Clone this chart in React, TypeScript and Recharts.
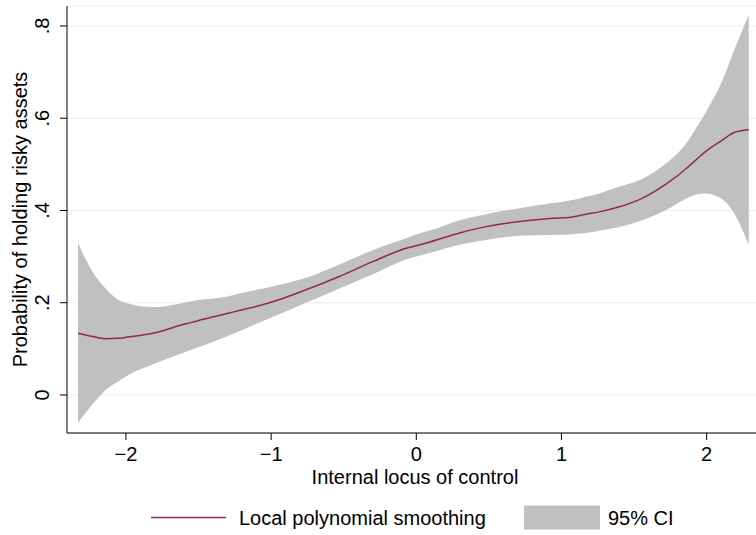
import React from "react";
import { ComposedChart, Area, Line, XAxis, YAxis, CartesianGrid, Legend } from "recharts";

// Internal locus of control (x) values
const xs = [-2.33, -2.23, -2.14, -2.05, -2.0, -1.93, -1.84, -1.77, -1.66, -1.54, -1.47, -1.31, -1.22, -1.08, -0.99, -0.76, -0.53, -0.3, -0.07, 0.02, 0.16, 0.25, 0.48, 0.71, 0.94, 1.05, 1.17, 1.26, 1.4, 1.54, 1.72, 1.86, 1.92, 1.99, 2.11, 2.19, 2.29];
// Local polynomial smoothing fit
const fit = [0.134, 0.127, 0.122, 0.123, 0.125, 0.128, 0.132, 0.137, 0.148, 0.158, 0.164, 0.176, 0.183, 0.194, 0.202, 0.228, 0.257, 0.289, 0.318, 0.325, 0.338, 0.347, 0.365, 0.376, 0.383, 0.385, 0.392, 0.397, 0.408, 0.424, 0.457, 0.491, 0.508, 0.527, 0.553, 0.569, 0.575];
// 95% CI bounds
const upper = [0.33, 0.267, 0.231, 0.206, 0.2, 0.194, 0.191, 0.191, 0.196, 0.204, 0.207, 0.213, 0.22, 0.229, 0.235, 0.254, 0.283, 0.314, 0.34, 0.35, 0.363, 0.374, 0.392, 0.405, 0.416, 0.421, 0.43, 0.437, 0.452, 0.466, 0.502, 0.546, 0.575, 0.611, 0.683, 0.748, 0.824];
const lower = [-0.06, -0.02, 0.011, 0.03, 0.04, 0.052, 0.063, 0.072, 0.085, 0.099, 0.107, 0.126, 0.138, 0.157, 0.169, 0.2, 0.231, 0.262, 0.294, 0.302, 0.314, 0.322, 0.336, 0.345, 0.347, 0.348, 0.351, 0.356, 0.364, 0.377, 0.401, 0.426, 0.434, 0.437, 0.424, 0.394, 0.325];

const xTicks = [-2, -1, 0, 1, 2];
const xTickLabels = ["\u22122", "\u22121", "0", "1", "2"];
const yTicks = [0, 0.2, 0.4, 0.6, 0.8];
const yTickLabels = ["0", ".2", ".4", ".6", ".8"];
const xTitle = "Internal locus of control";
const yTitle = "Probability of holding risky assets";
const legendLabels = ["Local polynomial smoothing", "95% CI"];

const data = xs.map((x, i) => ({ x, fit: fit[i], ci: [lower[i], upper[i]] }));

const FONT = "'Liberation Sans', Arial, Helvetica, sans-serif";
const FS = 20;
const LINE_COLOR = "#902d38";
const CI_COLOR = "#c0c0c0";
const GRID_COLOR = "#e6eff0";

const XTick = (props: any) => {
  const { x, y, payload } = props;
  const idx = xTicks.indexOf(payload.value);
  return (
    <text x={x} y={y + 19} textAnchor="middle" fontFamily={FONT} fontSize={FS} fill="#000">
      {idx >= 0 ? xTickLabels[idx] : payload.value}
    </text>
  );
};

const YTick = (props: any) => {
  const { x, y, payload } = props;
  const idx = yTicks.findIndex((t) => Math.abs(t - payload.value) < 1e-9);
  const bx = x - 9;
  return (
    <text x={bx} y={y} transform={`rotate(-90, ${bx}, ${y})`} textAnchor="middle" fontFamily={FONT} fontSize={FS} fill="#000">
      {idx >= 0 ? yTickLabels[idx] : payload.value}
    </text>
  );
};

const LegendContent = () => (
  <svg width={756} height={30} style={{ display: "block" }}>
    <line x1={151} x2={226} y1={14.5} y2={14.5} stroke={LINE_COLOR} strokeWidth={1.5} />
    <text x={239} y={21.5} fontFamily={FONT} fontSize={FS} fill="#000">{legendLabels[0]}</text>
    <rect x={524} y={2.5} width={76} height={24} fill={CI_COLOR} />
    <text x={608} y={21.5} fontFamily={FONT} fontSize={FS} fill="#000">{legendLabels[1]}</text>
  </svg>
);

export default function App() {
  return (
    <div style={{ position: "absolute", left: 0, top: 0, width: 756, height: 535, overflow: "hidden", background: "#fff" }}>
      <ComposedChart width={756} height={535} data={data} margin={{ top: 6, right: 0, left: 0, bottom: 52 }}>
        <CartesianGrid vertical={false} stroke={GRID_COLOR} strokeWidth={1} />
        <XAxis
          type="number"
          dataKey="x"
          domain={[-2.406, 2.34]}
          ticks={xTicks}
          allowDataOverflow
          height={50}
          tickSize={7}
          axisLine={{ stroke: "#000", strokeWidth: 1 }}
          tickLine={{ stroke: "#000", strokeWidth: 1 }}
          tick={<XTick />}
          interval={0}
          label={{
            content: () => (
              <text x={415} y={484} textAnchor="middle" fontFamily={FONT} fontSize={FS} fill="#000">
                {xTitle}
              </text>
            ),
          }}
        />
        <YAxis
          type="number"
          domain={[-0.0824, 0.8433]}
          ticks={yTicks}
          allowDataOverflow
          width={67}
          tickSize={7}
          axisLine={{ stroke: "#000", strokeWidth: 1 }}
          tickLine={{ stroke: "#000", strokeWidth: 1 }}
          tick={<YTick />}
          interval={0}
          label={{
            content: () => (
              <text x={27} y={219.5} transform="rotate(-90, 27, 219.5)" textAnchor="middle" fontFamily={FONT} fontSize={FS} fill="#000">
                {yTitle}
              </text>
            ),
          }}
        />
        <Area
          type="monotone"
          dataKey="ci"
          stroke="none"
          fill={CI_COLOR}
          fillOpacity={1}
          isAnimationActive={false}
          legendType="none"
          activeDot={false}
        />
        <Line
          type="monotone"
          dataKey="fit"
          stroke={LINE_COLOR}
          strokeWidth={1.5}
          dot={false}
          activeDot={false}
          isAnimationActive={false}
        />
        <Legend
          layout="horizontal"
          verticalAlign="middle"
          align="center"
          wrapperStyle={{ top: 503, left: 0, width: 756, height: 30 }}
          content={<LegendContent />}
        />
      </ComposedChart>
    </div>
  );
}
